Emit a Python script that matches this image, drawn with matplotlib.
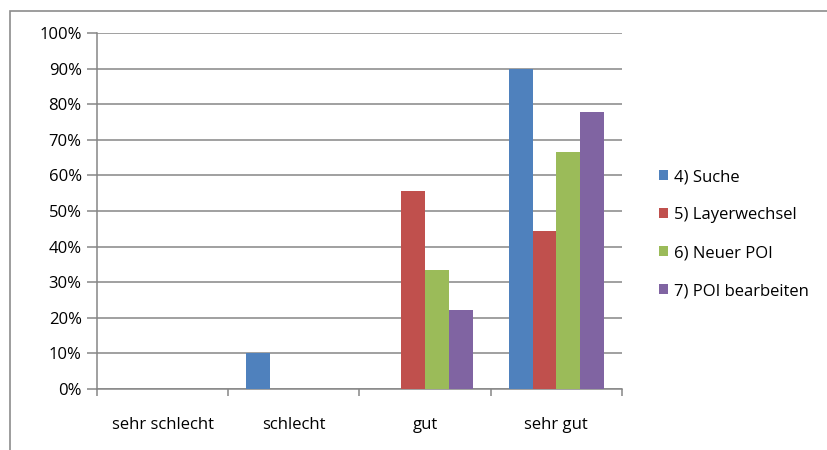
import numpy as np
import matplotlib.pyplot as plt
from matplotlib.patches import Rectangle

plt.rcParams['font.family'] = ['Open Sans', 'DejaVu Sans']

categories = ["sehr schlecht", "schlecht", "gut", "sehr gut"]
series_names = ["4) Suche", "5) Layerwechsel", "6) Neuer POI", "7) POI bearbeiten"]
suche = [0.0, 10.0, 0.0, 90.0]
layerwechsel = [0.0, 0.0, 55.6, 44.4]
neuer_poi = [0.0, 0.0, 33.3, 66.7]
poi_bearbeiten = [0.0, 0.0, 22.2, 77.8]
colors = ["#4F81BD", "#C0504D", "#9BBB59", "#8064A2"]

W, H = 828, 450
fig = plt.figure(figsize=(W / 100, H / 100), dpi=100)
ax = fig.add_axes([97 / W, 1 - 389 / H, (622 - 97) / W, (389 - 33) / H])

# outer chart frame (cut at right and bottom)
fig.patches.append(Rectangle((10 / W, -0.1), 1.2, 1 - 11 / H + 0.1,
                             transform=fig.transFigure, fill=False,
                             edgecolor="#8c8c8c", linewidth=1.2))

grey = "#868686"
fs = 12
x = np.arange(len(categories))
bw = 1 / 5.5
for i, (vals, name) in enumerate(zip([suche, layerwechsel, neuer_poi, poi_bearbeiten], series_names)):
    ax.bar(x + (i - 1.5) * bw, vals, width=bw, color=colors[i], label=name, zorder=3)

ax.set_xlim(-0.5, 3.5)
ax.set_ylim(0, 100)
ax.set_yticks(np.arange(0, 101, 10))
ax.set_yticklabels([f"{v}%" for v in range(0, 101, 10)])
ax.yaxis.grid(True, color=grey, linewidth=1.1, zorder=0)
ax.set_xticks(x)
ax.set_xticklabels(categories)
ax.set_xticks(np.arange(-0.5, 3.6, 1), minor=True)
ax.tick_params(axis="x", which="major", length=0, pad=20, labelsize=fs)
ax.tick_params(axis="x", which="minor", length=5, color=grey, width=1.1, direction="out")
ax.tick_params(axis="y", length=7, color=grey, width=1.1, pad=4, labelsize=fs)

for s in ["top", "right"]:
    ax.spines[s].set_visible(False)
for s in ["left", "bottom"]:
    ax.spines[s].set_color(grey)
    ax.spines[s].set_linewidth(1.1)

leg = fig.legend(loc="center left", bbox_to_anchor=(644 / W, 1 - 234 / H),
                 frameon=False, fontsize=fs, handlelength=0.55, handleheight=0.55,
                 handletextpad=0.35, labelspacing=1.32)

fig.savefig("out.png", dpi=100)
